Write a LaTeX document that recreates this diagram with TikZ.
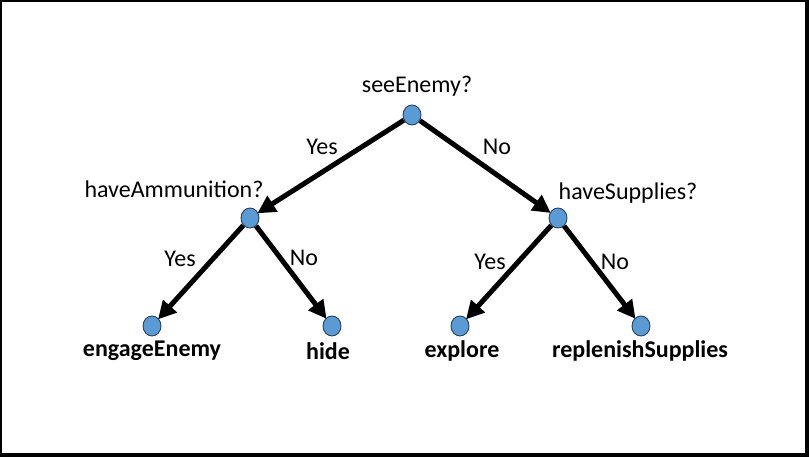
\documentclass[tikz,border=0pt]{standalone}
\usepackage{fontspec}
\setmainfont{Carlito}
\usetikzlibrary{arrows.meta,shapes.geometric}
\definecolor{nodeblue}{HTML}{5B9BD5}
\definecolor{nodeedge}{HTML}{2A3F5A}
\begin{document}
\begin{tikzpicture}[x=1pt,y=-1pt,
  dot/.style={ellipse,draw=nodeedge,line width=0.9pt,fill=nodeblue,minimum width=18pt,minimum height=20pt,inner sep=0pt},
  lbl/.style={font=\fontsize{24}{26}\selectfont,inner sep=0pt},
  leaf/.style={font=\fontsize{24}{26}\selectfont\bfseries,inner sep=0pt},
  edge/.style={line width=5pt,-{Triangle[length=18pt,width=18pt]},shorten >=-1pt}]
\useasboundingbox (0,0) rectangle (809,457);
\fill[black] (0,0) rectangle (809,457);
\fill[white] (2,2) rectangle (805,453);
\node[dot] (r) at (412,115) {};
\node[dot] (a) at (250,218) {};
\node[dot] (s) at (558,218) {};
\node[dot] (e) at (152,326) {};
\node[dot] (h) at (332,326) {};
\node[dot] (x) at (460,326) {};
\node[dot] (p) at (641,326) {};
\node[lbl] (tr) at (417,86) {seeEnemy?};
\node[lbl] (ta) at (174,189) {haveAmmunition?};
\node[lbl] (ts) at (628,193) {haveSupplies?};
\node[leaf] (te) at (152,351) {engageEnemy};
\node[leaf] (th) at (328,351) {hide};
\node[leaf] (tx) at (462,351) {explore};
\node[leaf] (tp) at (640,351) {replenishSupplies};
\draw[edge] (r) -- (a);
\draw[edge] (r) -- (s);
\draw[edge] (a) -- (e);
\draw[edge] (a) -- (h);
\draw[edge] (s) -- (x);
\draw[edge] (s) -- (p);
\node[lbl] (y1) at (322,147) {Yes};
\node[lbl] (n1) at (497,147) {No};
\node[lbl] (y2) at (180,259) {Yes};
\node[lbl] (n2) at (304,258) {No};
\node[lbl] (y3) at (490,262) {Yes};
\node[lbl] (n3) at (615,262) {No};
\end{tikzpicture}
\end{document}
